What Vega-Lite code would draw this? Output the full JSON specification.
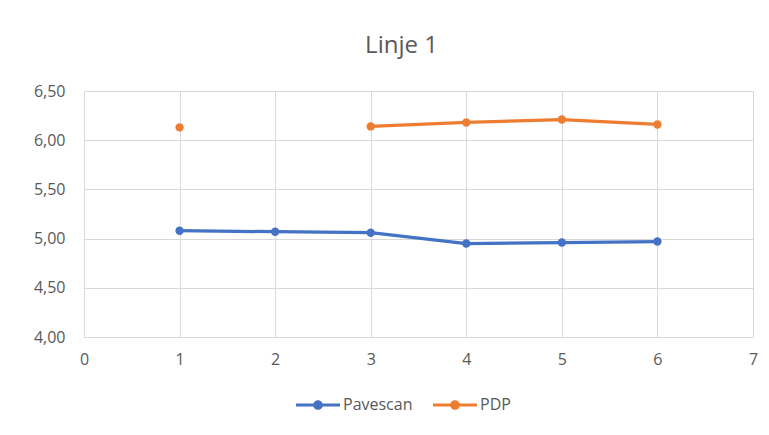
{
  "$schema": "https://vega.github.io/schema/vega-lite/v6.json",
  "width": 669,
  "height": 246,
  "autosize": "none",
  "padding": {"left": 84, "top": 91, "right": 16, "bottom": 98},
  "background": "white",
  "config": {
    "locale": {"number": {"decimal": ",", "thousands": ".", "grouping": [3], "currency": ["", " kr"]}},
    "view": {"stroke": null},
    "font": "Open Sans"
  },
  "title": {
    "text": "Linje 1",
    "font": "Open Sans",
    "fontSize": 24,
    "fontWeight": "normal",
    "color": "#595959",
    "anchor": "middle",
    "frame": "group",
    "dx": -17,
    "offset": 25
  },
  "data": {
    "values": [
      {"punkt": 1, "serie": "Pavescan", "verdi": 5.08},
      {"punkt": 2, "serie": "Pavescan", "verdi": 5.07},
      {"punkt": 3, "serie": "Pavescan", "verdi": 5.06},
      {"punkt": 4, "serie": "Pavescan", "verdi": 4.95},
      {"punkt": 5, "serie": "Pavescan", "verdi": 4.96},
      {"punkt": 6, "serie": "Pavescan", "verdi": 4.97},
      {"punkt": 1, "serie": "PDP", "verdi": 6.13},
      {"punkt": 2, "serie": "PDP", "verdi": null},
      {"punkt": 3, "serie": "PDP", "verdi": 6.14},
      {"punkt": 4, "serie": "PDP", "verdi": 6.18},
      {"punkt": 5, "serie": "PDP", "verdi": 6.21},
      {"punkt": 6, "serie": "PDP", "verdi": 6.16}
    ]
  },
  "encoding": {
    "x": {
      "field": "punkt",
      "type": "quantitative",
      "scale": {"domain": [0, 7], "nice": false, "zero": false},
      "axis": {
        "title": null,
        "values": [0, 1, 2, 3, 4, 5, 6, 7],
        "format": "d",
        "domain": false,
        "ticks": false,
        "tickSize": 0,
        "grid": true,
        "gridColor": "#D9D9D9",
        "gridWidth": 1,
        "labelFlush": false,
        "labelFont": "Open Sans",
        "labelFontSize": 16,
        "labelColor": "#595959",
        "labelPadding": 14
      }
    },
    "y": {
      "field": "verdi",
      "type": "quantitative",
      "scale": {"domain": [4, 6.5], "nice": false, "zero": false},
      "axis": {
        "title": null,
        "values": [4, 4.5, 5, 5.5, 6, 6.5],
        "format": ".2f",
        "domain": false,
        "ticks": false,
        "tickSize": 0,
        "grid": true,
        "gridColor": "#D9D9D9",
        "gridWidth": 1,
        "labelFlush": false,
        "labelFont": "Open Sans",
        "labelFontSize": 16,
        "labelColor": "#595959",
        "labelPadding": 19
      }
    },
    "color": {
      "field": "serie",
      "type": "nominal",
      "scale": {"domain": ["Pavescan", "PDP"], "range": ["#4472C4", "#ED7D31"]},
      "legend": {
        "title": null,
        "orient": "none",
        "direction": "horizontal",
        "legendX": 212,
        "legendY": 292,
        "padding": 0,
        "symbolType": "M-1,-0.07H1V0.07H-1Z M-0.22,0A0.22,0.22 0 1,1 0.22,0A0.22,0.22 0 1,1 -0.22,0Z",
        "symbolSize": 1936,
        "symbolStrokeWidth": 0,
        "symbolOpacity": 1,
        "labelFont": "Open Sans",
        "labelFontSize": 16,
        "labelColor": "#595959",
        "labelOffset": 3,
        "columnPadding": 20,
        "encode": {
          "symbols": {
            "update": {
              "fill": {"scale": "color", "field": "value"},
              "strokeWidth": {"value": 0}
            }
          }
        }
      }
    }
  },
  "layer": [
    {
      "mark": {"type": "line", "strokeWidth": 3.25, "invalid": "break-paths-show-domains"}
    },
    {
      "mark": {"type": "point", "filled": true, "size": 70, "opacity": 1}
    }
  ]
}
